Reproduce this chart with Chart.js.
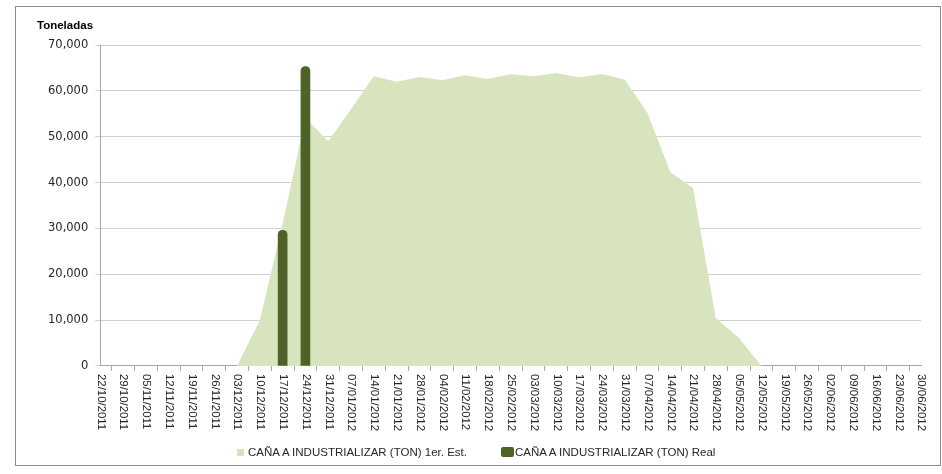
<!DOCTYPE html>
<html>
<head>
<meta charset="utf-8">
<script src="https://cdn.jsdelivr.net/npm/chart.js@4.4.1/dist/chart.umd.min.js"></script>
<style>
  html, body { margin: 0; padding: 0; background: #ffffff; }
  #wrap { position: absolute; left: 15px; top: 6px; width: 924px; height: 458px; border: 1px solid #8c8c8c; background: #fff; }
  canvas { display: block; }
  #legend { position: absolute; left: 237px; top: 444px; height: 16px; display: flex; align-items: center;
            font-family: 'Liberation Sans', Arial, sans-serif; font-size: 11.5px; color: #262626; white-space: nowrap; }
  .item { display: flex; align-items: center; }
  .sw1 { width: 7px; height: 7px; background: #d7e4bd; margin-right: 4px; }
  .sw2 { width: 13px; height: 10px; background: #4f6228; border-radius: 2px; margin-right: 1px; margin-left: 34px; }
</style>
</head>
<body>
<div id="wrap"><canvas id="c"></canvas></div>
<div id="legend"></div>
<script>
const categories = [
  "22/10/2011","29/10/2011","05/11/2011","12/11/2011","19/11/2011","26/11/2011",
  "03/12/2011","10/12/2011","17/12/2011","24/12/2011","31/12/2011","07/01/2012",
  "14/01/2012","21/01/2012","28/01/2012","04/02/2012","11/02/2012","18/02/2012",
  "25/02/2012","03/03/2012","10/03/2012","17/03/2012","24/03/2012","31/03/2012",
  "07/04/2012","14/04/2012","21/04/2012","28/04/2012","05/05/2012","12/05/2012",
  "19/05/2012","26/05/2012","02/06/2012","09/06/2012","16/06/2012","23/06/2012",
  "30/06/2012"
];
const estimado = [
  null, null, null, null, null, null,
  0, 10000, 31000, 54000, 49000, 56000,
  63200, 62000, 63000, 62300, 63400, 62600,
  63600, 63200, 63900, 62900, 63700, 62500,
  55200, 42300, 38800, 10400, 6200, 0,
  null, null, null, null, null, null,
  null
];
const real = [
  null, null, null, null, null, null,
  null, null, 29600, 65300, null, null,
  null, null, null, null, null, null,
  null, null, null, null, null, null,
  null, null, null, null, null, null,
  null, null, null, null, null, null,
  null
];
const yTicks = [0, 10000, 20000, 30000, 40000, 50000, 60000, 70000];
const seriesNames = ["CAÑA A INDUSTRIALIZAR (TON) 1er. Est.", "CAÑA A INDUSTRIALIZAR (TON) Real"];
const yTitle = "Toneladas";

const xTickLen = 5, xTickPad = 3;
const xLabelFont = "11.4px 'Liberation Sans', Arial, sans-serif";

const customText = {
  id: 'customText',
  afterDraw(chart) {
    const ctx = chart.ctx;
    const xs = chart.scales.x;
    const ys = chart.scales.y;
    ctx.save();
    ctx.fillStyle = '#262626';
    ctx.font = xLabelFont;
    ctx.textAlign = 'left';
    ctx.textBaseline = 'middle';
    const y0 = xs.top + xTickLen + xTickPad;
    xs.ticks.forEach((t, i) => {
      const x = xs.getPixelForTick(i);
      ctx.save();
      ctx.translate(x + 0.5, y0);
      ctx.rotate(Math.PI / 2);
      ctx.fillText(categories[t.value], 0, 0);
      ctx.restore();
    });
    ctx.font = "bold 11.5px 'Liberation Sans', Arial, sans-serif";
    ctx.textAlign = 'left';
    ctx.textBaseline = 'middle';
    ctx.fillStyle = '#000000';
    ctx.fillText(yTitle, ys.left - 4, chart.chartArea.top - 19);
    ctx.restore();
  }
};

const chart = new Chart(document.getElementById('c'), {
  data: {
    labels: categories,
    datasets: [
      {
        type: 'line',
        label: seriesNames[0],
        data: estimado,
        fill: 'origin',
        backgroundColor: '#d7e4bd',
        borderColor: '#d7e4bd',
        borderWidth: 0,
        pointRadius: 0,
        tension: 0,
        order: 2
      },
      {
        type: 'bar',
        label: seriesNames[1],
        data: real,
        backgroundColor: '#4f6228',
        borderColor: '#4f6228',
        borderWidth: 0,
        barThickness: 9,
        borderRadius: 5,
        order: 1
      }
    ]
  },
  plugins: [customText],
  options: {
    responsive: true,
    maintainAspectRatio: false,
    animation: false,
    layout: { padding: { left: 25, top: 38, right: 19, bottom: 31 } },
    plugins: {
      tooltip: { enabled: false },
      title: { display: false },
      legend: { display: false }
    },
    scales: {
      x: {
        type: 'category',
        offset: false,
        grid: {
          drawOnChartArea: false,
          drawTicks: true,
          tickLength: xTickLen,
          color: '#a6a6a6'
        },
        border: { color: '#a6a6a6', width: 1 },
        ticks: {
          autoSkip: false,
          minRotation: 90,
          maxRotation: 90,
          padding: xTickPad,
          color: 'rgba(0,0,0,0)',
          font: { family: "'Liberation Sans', Arial, sans-serif", size: 11.4 }
        }
      },
      y: {
        min: 0,
        max: 70000,
        afterBuildTicks: (scale) => { scale.ticks = yTicks.map(v => ({ value: v })); },
        grid: {
          color: '#d0d0d0',
          lineWidth: 1,
          tickLength: 5
        },
        border: { color: '#a6a6a6', width: 1 },
        ticks: {
          padding: 7,
          color: '#262626',
          font: { family: "'DejaVu Sans', sans-serif", size: 11.5 },
          callback: (v) => Number(v).toLocaleString('en-US')
        }
      }
    }
  }
});

// HTML legend built from the dataset definitions
const legend = document.getElementById('legend');
chart.data.datasets.forEach((ds, i) => {
  const item = document.createElement('span');
  item.className = 'item';
  const sw = document.createElement('span');
  sw.className = i === 0 ? 'sw1' : 'sw2';
  const txt = document.createElement('span');
  txt.textContent = ds.label;
  item.appendChild(sw);
  item.appendChild(txt);
  legend.appendChild(item);
});
</script>
</body>
</html>
